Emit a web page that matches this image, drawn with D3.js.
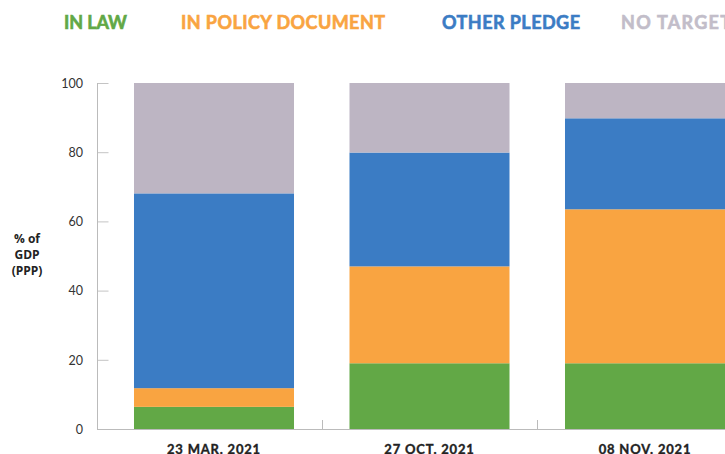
<!DOCTYPE html>
<html>
<head>
<meta charset="utf-8">
<script src="https://cdn.jsdelivr.net/npm/d3@7"></script>
<style>
  body { margin: 0; background: #fff; }
  svg { display: block; }
  .legend text { font-family: Lato, sans-serif; font-weight: 700; font-size: 18px; stroke-width: 0.6px; }
  .tick text { font-family: Lato, sans-serif; font-size: 12.5px; fill: #333; }
  .xlab { font-family: Lato, sans-serif; font-weight: 700; font-size: 13px; fill: #222; stroke: #222; stroke-width: 0.35px; letter-spacing: 0.8px; }
  .ytitle { font-family: "Open Sans", sans-serif; font-weight: 700; font-size: 12px; fill: #222; }
</style>
</head>
<body>
<div id="chart"></div>
<script>
var fullwidth = 725, fullheight = 454;

// data (% of GDP PPP)
var dates = ["23 MAR. 2021", "27 OCT. 2021", "08 NOV. 2021"];
var seriesNames = ["IN LAW", "IN POLICY DOCUMENT", "OTHER PLEDGE", "NO TARGET"];
var inLaw = [6.4, 19.0, 19.0];
var inPolicy = [5.4, 28.0, 44.5];
var otherPledge = [56.3, 32.9, 26.3];
var noTarget = [31.9, 20.1, 10.2];
var yTicks = [0, 20, 40, 60, 80, 100];

var colors = ["#62a846", "#f9a441", "#3b7cc4", "#bdb5c3"];
var legendColors = ["#62a846", "#f9a441", "#3b7cc4", "#c2bdc9"];

var rows = dates.map(function(d, i) {
  return {date: d, "IN LAW": inLaw[i], "IN POLICY DOCUMENT": inPolicy[i],
          "OTHER PLEDGE": otherPledge[i], "NO TARGET": noTarget[i]};
});
var stacked = d3.stack().keys(seriesNames)(rows);

var svg = d3.select("#chart").append("svg")
    .attr("width", fullwidth)
    .attr("height", fullheight);

var xScale = d3.scaleBand()
    .domain(dates)
    .range([106.25, 752.75])
    .paddingInner(0.2575)
    .paddingOuter(0.12875);

var yScale = d3.scaleLinear()
    .domain([0, 100])
    .range([429, 83]);

// legend
var legendX = [64, 181, 442, 621];
var legendW = [63, 204, 138, 110];
svg.append("g").attr("class", "legend")
  .selectAll("text")
  .data(seriesNames)
  .enter().append("text")
    .attr("x", function(d, i) { return legendX[i]; })
    .attr("y", 28.5)
    .attr("fill", function(d, i) { return legendColors[i]; })
    .attr("stroke", function(d, i) { return legendColors[i]; })
    .attr("textLength", function(d, i) { return legendW[i]; })
    .attr("lengthAdjust", "spacing")
    .text(function(d) { return d; });

// bars
svg.append("g").selectAll("g.layer")
  .data(stacked)
  .enter().append("g")
    .attr("class", "layer")
    .attr("fill", function(d, i) { return colors[i]; })
  .selectAll("rect")
  .data(function(d) { return d; })
  .enter().append("rect")
    .attr("x", function(d) { return xScale(d.data.date); })
    .attr("width", xScale.bandwidth())
    .attr("y", function(d) { return yScale(d[1]); })
    .attr("height", function(d) { return yScale(d[0]) - yScale(d[1]); });

// y axis
var yAxis = d3.axisRight(yScale).tickValues(yTicks).tickSize(11).tickFormat(d3.format("d"));
var yg = svg.append("g")
    .attr("transform", "translate(97,0)")
    .call(yAxis);
yg.select(".domain").remove();
yg.append("line")
    .attr("x1", 0.5).attr("x2", 0.5)
    .attr("y1", yScale(100)).attr("y2", yScale(0))
    .attr("stroke", "#bbb");
yg.selectAll(".tick line").attr("stroke", "#c4c4c4").attr("transform", "translate(0.5,0)");
yg.selectAll(".tick text")
    .attr("x", -14)
    .attr("text-anchor", "end")
    .attr("dy", "0.35em");

// baseline
svg.append("line")
    .attr("x1", 97).attr("x2", fullwidth)
    .attr("y1", yScale(0) + 0.5).attr("y2", yScale(0) + 0.5)
    .attr("stroke", "#bbb");

// separators between bars
var step = xScale.step();
svg.selectAll("line.sep")
  .data(dates.slice(1))
  .enter().append("line")
    .attr("class", "sep")
    .attr("x1", function(d) { return Math.round(xScale(d) - (step - xScale.bandwidth()) / 2) + 0.5; })
    .attr("x2", function(d) { return Math.round(xScale(d) - (step - xScale.bandwidth()) / 2) + 0.5; })
    .attr("y1", yScale(0) - 9)
    .attr("y2", yScale(0))
    .attr("stroke", "#bbb");

// x labels
svg.selectAll("text.xlab")
  .data(dates)
  .enter().append("text")
    .attr("class", "xlab")
    .attr("x", function(d) { return xScale(d) + xScale.bandwidth() / 2; })
    .attr("y", 454)
    .attr("text-anchor", "middle")
    .text(function(d) { return d; });

// y title
svg.append("text")
    .attr("class", "ytitle")
    .attr("text-anchor", "middle")
    .selectAll("tspan")
    .data(["% of", "GDP", "(PPP)"])
    .enter().append("tspan")
      .attr("x", 27)
      .attr("y", function(d, i) { return 243 + i * 16; })
      .text(function(d) { return d; });
</script>
</body>
</html>
